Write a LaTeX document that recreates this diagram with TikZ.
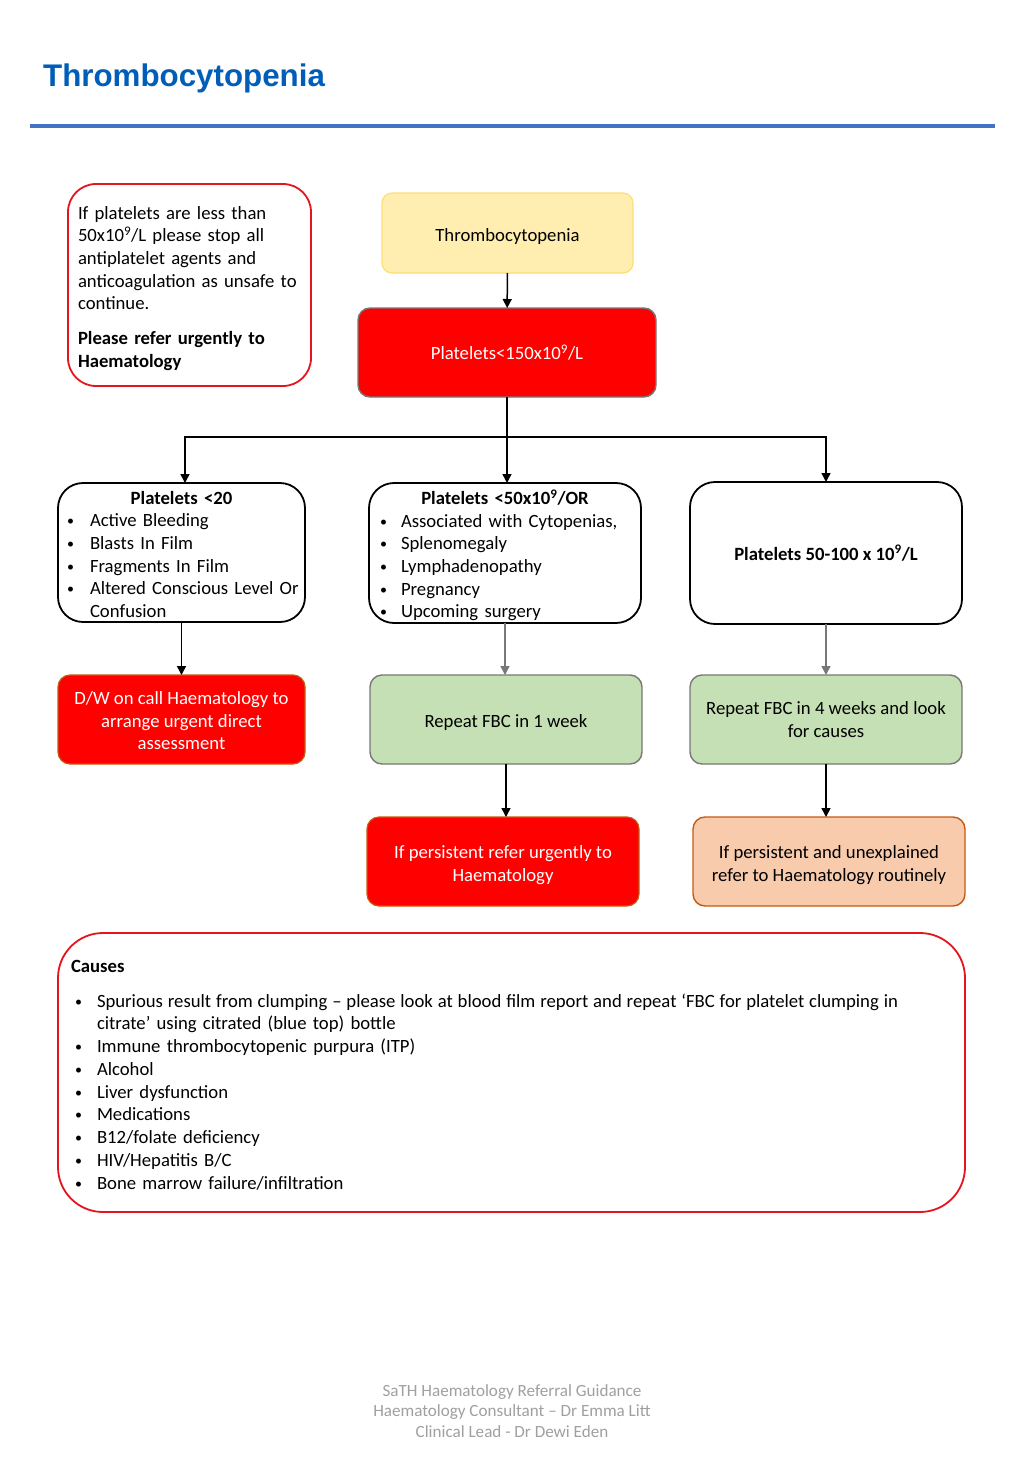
\documentclass[tikz,border=0pt]{standalone}
\usepackage{fontspec}
\setmainfont{Carlito}
\newfontfamily\titlefont{Liberation Sans}
\usetikzlibrary{arrows.meta}
\definecolor{titleblue}{RGB}{0,94,184}
\definecolor{rulerblue}{RGB}{68,114,196}
\definecolor{myred}{RGB}{255,0,0}
\definecolor{redline}{RGB}{230,20,30}
\definecolor{brownline}{RGB}{197,90,17}
\definecolor{yfill}{RGB}{255,238,175}
\definecolor{yline}{RGB}{255,222,120}
\definecolor{gfill}{RGB}{197,224,180}
\definecolor{pfill}{RGB}{248,203,173}
\definecolor{boxgray}{RGB}{120,120,120}
\definecolor{footgray}{RGB}{160,160,160}
\newcommand{\smallbullet}{\raisebox{1pt}{\fontsize{14}{14}\selectfont\textbullet}}
\newcommand{\blt}[3]{\par\noindent\hangindent=#2\hangafter=1\hbox to #2{\hskip#1\smallbullet\hfil}#3}
\newcommand{\ctrline}[1]{\par\noindent\hbox to\hsize{\hfil #1\hfil}}
\setlength{\parskip}{0pt}
\begin{document}
\begin{tikzpicture}[x=1pt,y=-1pt,
  basefont/.style={font=\fontsize{18.7}{22.6}\selectfont, inner sep=0pt, outer sep=0pt},
  lowerby/.style={execute at begin node={\rule{0pt}{#1}}},
  whitebox/.style={basefont, draw=black, line width=1.8pt, fill=white, rounded corners=25pt},
  redbox/.style={basefont, draw=brownline, line width=1.2pt, fill=myred, text=white, rounded corners=12pt, align=center},
  greenbox/.style={basefont, draw=boxgray, line width=1.4pt, fill=gfill, rounded corners=12pt, align=center},
  conn/.style={line width=1.5pt, -{Triangle[length=9pt,width=9pt]}},
  grayconn/.style={conn, draw=boxgray}
]
\useasboundingbox (0,0) rectangle (1024,1479);
\fill[white] (0,0) rectangle (1024,1479);

% title
\node[anchor=base west, inner sep=0pt, text=titleblue, font=\titlefont\bfseries\fontsize{31.3}{36}\selectfont] (title) at (43,87) {Thrombocytopenia};
\draw[rulerblue, line width=4.5pt] (30,126) -- (995,126);

% warning box
\node[basefont, draw=redline, line width=1.8pt, rounded corners=28pt, minimum width=243pt, minimum height=202pt, text width=223pt, align=left, lowerby=20pt] (warn) at (189.5,285)
{If platelets are less than\\
50x10\textsuperscript{9}/L please stop all\\
antiplatelet agents and\\
anticoagulation as unsafe to\\
continue.\\[12.5pt]
\textbf{Please refer urgently to}\\
\textbf{Haematology}};

% top chain
\node[basefont, draw=yline, line width=1.2pt, fill=yfill, rounded corners=10pt, minimum width=251pt, minimum height=80pt, lowerby=20pt] (thr) at (507.5,233) {Thrombocytopenia};
\node[basefont, draw=boxgray, line width=1.4pt, fill=myred, text=white, rounded corners=12pt, minimum width=298pt, minimum height=89pt] (p150) at (507,352.5) {Platelets<150x10\textsuperscript{9}/L};

% second row
\node[whitebox, minimum width=247pt, minimum height=139pt] (bA) at (181.5,552.5) {};
\node[basefont, text width=229pt, yshift=3pt] (bAtext) at (bA.center)
{\raggedright\ctrline{\bfseries Platelets <20}
\blt{0pt}{23pt}{Active Bleeding}
\blt{0pt}{23pt}{Blasts In Film}
\blt{0pt}{23pt}{Fragments In Film}
\blt{0pt}{23pt}{\mbox{Altered Conscious Level Or}\newline Confusion}\par};

\node[whitebox, minimum width=272pt, minimum height=140pt] (bB) at (505,553) {};
\node[basefont, text width=250pt, yshift=1.5pt] (bBtext) at (bB.center)
{\raggedright\ctrline{\bfseries Platelets <50x10\textsuperscript{9}/OR}
\blt{0pt}{21pt}{Associated with Cytopenias,}
\blt{0pt}{21pt}{Splenomegaly}
\blt{0pt}{21pt}{Lymphadenopathy}
\blt{0pt}{21pt}{Pregnancy}
\blt{0pt}{21pt}{Upcoming surgery}\par};

\node[whitebox, minimum width=272pt, minimum height=142pt] (bC) at (826,553)
{\bfseries Platelets 50-100 x 10\textsuperscript{9}/L};

% third row
\node[redbox, minimum width=247pt, minimum height=89pt] (dw) at (181.5,719.5)
{\rule{0pt}{15.5pt}D/W on call Haematology to\\arrange urgent direct\\assessment};
\node[greenbox, minimum width=272pt, minimum height=89pt, lowerby=18pt] (r1) at (506,719.5) {Repeat FBC in 1 week};
\node[greenbox, minimum width=272pt, minimum height=89pt] (r4) at (826,719.5) {Repeat FBC in 4 weeks and look\\for causes};

% fourth row
\node[redbox, minimum width=272pt, minimum height=89pt] (urg) at (503,861.5)
{\rule{0pt}{20pt}If persistent refer urgently to\\Haematology};
\node[basefont, draw=brownline, line width=1.4pt, fill=pfill, rounded corners=12pt, align=center, minimum width=272pt, minimum height=89pt] (rout) at (829,861.5)
{\rule{0pt}{20pt}If persistent and unexplained\\refer to Haematology routinely};

% causes
\node[basefont, font=\fontsize{18.7}{22.75}\selectfont, draw=redline, line width=1.8pt, rounded corners=45pt, minimum width=907pt, minimum height=279pt, text width=881pt] (causes) at (511.5,1072.5)
{\raggedright\noindent\rule{0pt}{18pt}\textbf{Causes}\par\vskip11.5pt
\blt{4pt}{26pt}{\mbox{\spaceskip=4.9pt Spurious result from clumping – please look at blood film report and repeat ‘FBC for platelet clumping in}\newline citrate’ using citrated (blue top) bottle}
\blt{4pt}{26pt}{Immune thrombocytopenic purpura (ITP)}
\blt{4pt}{26pt}{Alcohol}
\blt{4pt}{26pt}{Liver dysfunction}
\blt{4pt}{26pt}{Medications}
\blt{4pt}{26pt}{B12/folate deficiency}
\blt{4pt}{26pt}{HIV/Hepatitis B/C}
\blt{4pt}{26pt}{Bone marrow failure/infiltration}\par};

% footer
\node[inner sep=0pt, align=center, text=footgray, font=\fontsize{17.1}{20.5}\selectfont] (foot) at (512,1411)
{SaTH Haematology Referral Guidance\\Haematology Consultant – Dr Emma Litt\\Clinical Lead - Dr Dewi Eden};

% connectors
\coordinate (j) at (507,437);
\coordinate (aIn) at (185,483);
\draw[conn] (thr) -- (p150);
\draw[conn] (p150.south) -- (p150.south |- bB.north);
\draw[conn] (j) -| (aIn);
\draw[conn] (j) -| (bC.north);
\draw[conn] (bA) -- (dw);
\draw[grayconn] (bB.south) -- (bB.south |- r1.north);
\draw[grayconn] (bC) -- (r4);
\draw[conn] (r1.south) -- (r1.south |- urg.north);
\draw[conn] (r4.south) -- (r4.south |- rout.north);
\end{tikzpicture}
\end{document}
